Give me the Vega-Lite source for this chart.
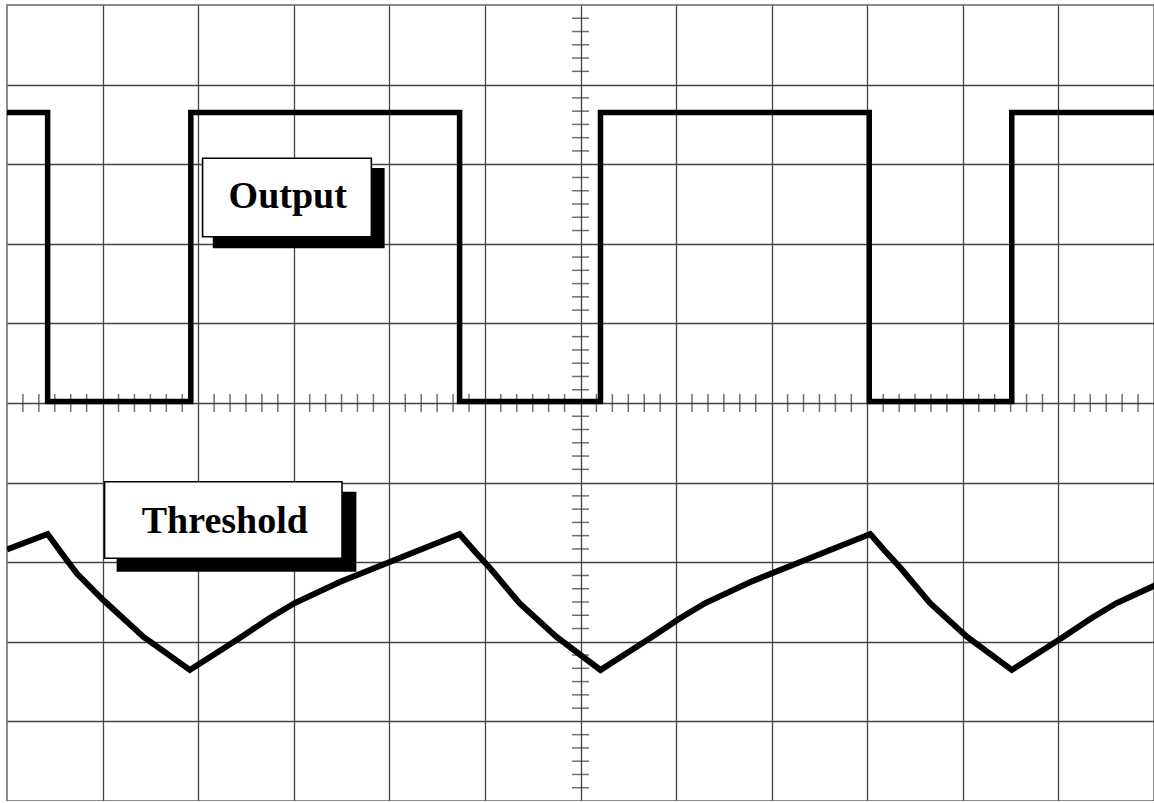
{
  "$schema": "https://vega.github.io/schema/vega-lite/v6.json",
  "width": 1147,
  "height": 796,
  "autosize": {"type": "none"},
  "padding": {"left": 7, "top": 5, "right": 0, "bottom": 0},
  "background": "white",
  "config": {
    "view": {"stroke": "#666", "strokeWidth": 1.5},
    "axis": {"grid": true, "labels": false, "ticks": false, "domain": false, "title": null, "gridColor": "#444", "gridWidth": 1.3, "gridOpacity": 1}
  },
  "datasets": {
    "output": [
      {"i": 0, "t": 0, "v": 3.65},
      {"i": 1, "t": 0.425, "v": 3.65},
      {"i": 2, "t": 0.425, "v": 0.02},
      {"i": 3, "t": 1.923, "v": 0.02},
      {"i": 4, "t": 1.923, "v": 3.65},
      {"i": 5, "t": 4.735, "v": 3.65},
      {"i": 6, "t": 4.735, "v": 0.02},
      {"i": 7, "t": 6.209, "v": 0.02},
      {"i": 8, "t": 6.209, "v": 3.65},
      {"i": 9, "t": 9.021, "v": 3.65},
      {"i": 10, "t": 9.021, "v": 0.02},
      {"i": 11, "t": 10.512, "v": 0.02},
      {"i": 12, "t": 10.512, "v": 3.65},
      {"i": 13, "t": 12.05, "v": 3.65}
    ],
    "threshold": [
      {"i": 0, "t": 0, "v": -1.84},
      {"i": 1, "t": 0.425, "v": -1.646},
      {"i": 2, "t": 0.58, "v": -1.9},
      {"i": 3, "t": 0.729, "v": -2.139},
      {"i": 4, "t": 1.007, "v": -2.475},
      {"i": 5, "t": 1.425, "v": -2.936},
      {"i": 6, "t": 1.913, "v": -3.354},
      {"i": 7, "t": 2.174, "v": -3.153},
      {"i": 8, "t": 2.435, "v": -2.952},
      {"i": 9, "t": 2.749, "v": -2.701},
      {"i": 10, "t": 3.01, "v": -2.513},
      {"i": 11, "t": 3.481, "v": -2.249},
      {"i": 12, "t": 4.003, "v": -1.997},
      {"i": 13, "t": 4.369, "v": -1.822},
      {"i": 14, "t": 4.735, "v": -1.646},
      {"i": 15, "t": 4.89, "v": -1.86},
      {"i": 16, "t": 5.05, "v": -2.07},
      {"i": 17, "t": 5.362, "v": -2.516},
      {"i": 18, "t": 5.746, "v": -2.936},
      {"i": 19, "t": 6.209, "v": -3.354},
      {"i": 20, "t": 6.47, "v": -3.153},
      {"i": 21, "t": 6.731, "v": -2.952},
      {"i": 22, "t": 7.045, "v": -2.701},
      {"i": 23, "t": 7.306, "v": -2.513},
      {"i": 24, "t": 7.777, "v": -2.249},
      {"i": 25, "t": 8.299, "v": -1.997},
      {"i": 26, "t": 8.665, "v": -1.822},
      {"i": 27, "t": 9.031, "v": -1.646},
      {"i": 28, "t": 9.186, "v": -1.86},
      {"i": 29, "t": 9.346, "v": -2.07},
      {"i": 30, "t": 9.658, "v": -2.516},
      {"i": 31, "t": 10.042, "v": -2.936},
      {"i": 32, "t": 10.512, "v": -3.354},
      {"i": 33, "t": 10.773, "v": -3.153},
      {"i": 34, "t": 11.034, "v": -2.952},
      {"i": 35, "t": 11.348, "v": -2.701},
      {"i": 36, "t": 11.609, "v": -2.513},
      {"i": 37, "t": 12.05, "v": -2.27}
    ],
    "hticks": [
      {"p": 0.1667}, {"p": 0.3333}, {"p": 0.5}, {"p": 0.6667}, {"p": 0.8333},
      {"p": 1.1667}, {"p": 1.3333}, {"p": 1.5}, {"p": 1.6667}, {"p": 1.8333},
      {"p": 2.1667}, {"p": 2.3333}, {"p": 2.5}, {"p": 2.6667}, {"p": 2.8333},
      {"p": 3.1667}, {"p": 3.3333}, {"p": 3.5}, {"p": 3.6667}, {"p": 3.8333},
      {"p": 4.1667}, {"p": 4.3333}, {"p": 4.5}, {"p": 4.6667}, {"p": 4.8333},
      {"p": 5.1667}, {"p": 5.3333}, {"p": 5.5}, {"p": 5.6667}, {"p": 5.8333},
      {"p": 6.1667}, {"p": 6.3333}, {"p": 6.5}, {"p": 6.6667}, {"p": 6.8333},
      {"p": 7.1667}, {"p": 7.3333}, {"p": 7.5}, {"p": 7.6667}, {"p": 7.8333},
      {"p": 8.1667}, {"p": 8.3333}, {"p": 8.5}, {"p": 8.6667}, {"p": 8.8333},
      {"p": 9.1667}, {"p": 9.3333}, {"p": 9.5}, {"p": 9.6667}, {"p": 9.8333},
      {"p": 10.1667}, {"p": 10.3333}, {"p": 10.5}, {"p": 10.6667}, {"p": 10.8333},
      {"p": 11.1667}, {"p": 11.3333}, {"p": 11.5}, {"p": 11.6667}, {"p": 11.8333}
    ],
    "vticks": [
      {"p": -4.8333}, {"p": -4.6667}, {"p": -4.5}, {"p": -4.3333}, {"p": -4.1667},
      {"p": -3.8333}, {"p": -3.6667}, {"p": -3.5}, {"p": -3.3333}, {"p": -3.1667},
      {"p": -2.8333}, {"p": -2.6667}, {"p": -2.5}, {"p": -2.3333}, {"p": -2.1667},
      {"p": -1.8333}, {"p": -1.6667}, {"p": -1.5}, {"p": -1.3333}, {"p": -1.1667},
      {"p": -0.8333}, {"p": -0.6667}, {"p": -0.5}, {"p": -0.3333}, {"p": -0.1667},
      {"p": 0.1667}, {"p": 0.3333}, {"p": 0.5}, {"p": 0.6667}, {"p": 0.8333},
      {"p": 1.1667}, {"p": 1.3333}, {"p": 1.5}, {"p": 1.6667}, {"p": 1.8333},
      {"p": 2.1667}, {"p": 2.3333}, {"p": 2.5}, {"p": 2.6667}, {"p": 2.8333},
      {"p": 3.1667}, {"p": 3.3333}, {"p": 3.5}, {"p": 3.6667}, {"p": 3.8333},
      {"p": 4.1667}, {"p": 4.3333}, {"p": 4.5}, {"p": 4.6667}, {"p": 4.8333}
    ],
    "shadows": [
      {"name": "Output", "x1": 2.153, "x2": 3.951, "y1": 2.952, "y2": 1.943},
      {"name": "Threshold", "x1": 1.147, "x2": 3.655, "y1": -1.114, "y2": -2.119}
    ],
    "boxes": [
      {"name": "Output", "x1": 2.046, "x2": 3.812, "y1": 3.074, "y2": 2.089},
      {"name": "Threshold", "x1": 1.021, "x2": 3.505, "y1": -0.989, "y2": -1.951}
    ],
    "labels": [
      {"name": "Output", "x": 2.937, "y": 2.45},
      {"name": "Threshold", "x": 2.279, "y": -1.637}
    ]
  },
  "layer": [
    {
      "data": {"name": "hticks"},
      "mark": {"type": "tick", "orient": "vertical", "size": 18, "thickness": 1.5, "color": "#333"},
      "encoding": {
        "x": {"field": "p", "type": "quantitative", "scale": {"domain": [0, 12], "nice": false, "zero": false}, "axis": {"values": [1, 2, 3, 4, 5, 6, 7, 8, 9, 10, 11]}},
        "y": {"datum": 0, "type": "quantitative", "scale": {"domain": [-5, 5], "nice": false, "zero": false}, "axis": {"values": [-4, -3, -2, -1, 0, 1, 2, 3, 4]}}
      }
    },
    {
      "data": {"name": "vticks"},
      "mark": {"type": "tick", "orient": "horizontal", "size": 17, "thickness": 1.5, "color": "#333"},
      "encoding": {
        "y": {"field": "p", "type": "quantitative"},
        "x": {"datum": 6, "type": "quantitative"}
      }
    },
    {
      "data": {"name": "output"},
      "mark": {"type": "line", "color": "black", "strokeWidth": 5.5, "strokeJoin": "miter", "strokeCap": "butt", "clip": true},
      "encoding": {
        "x": {"field": "t", "type": "quantitative"},
        "y": {"field": "v", "type": "quantitative"},
        "order": {"field": "i", "type": "quantitative"}
      }
    },
    {
      "data": {"name": "threshold"},
      "mark": {"type": "line", "color": "black", "strokeWidth": 6, "strokeJoin": "miter", "strokeCap": "butt", "clip": true},
      "encoding": {
        "x": {"field": "t", "type": "quantitative"},
        "y": {"field": "v", "type": "quantitative"},
        "order": {"field": "i", "type": "quantitative"}
      }
    },
    {
      "data": {"name": "shadows"},
      "mark": {"type": "rect", "color": "black"},
      "encoding": {
        "x": {"field": "x1", "type": "quantitative"},
        "x2": {"field": "x2"},
        "y": {"field": "y1", "type": "quantitative"},
        "y2": {"field": "y2"}
      }
    },
    {
      "data": {"name": "boxes"},
      "mark": {"type": "rect", "fill": "white", "stroke": "black", "strokeWidth": 1.6},
      "encoding": {
        "x": {"field": "x1", "type": "quantitative"},
        "x2": {"field": "x2"},
        "y": {"field": "y1", "type": "quantitative"},
        "y2": {"field": "y2"}
      }
    },
    {
      "data": {"name": "labels"},
      "mark": {"type": "text", "font": "Liberation Serif", "fontWeight": "bold", "fontSize": 38, "align": "center", "baseline": "alphabetic", "color": "black"},
      "encoding": {
        "x": {"field": "x", "type": "quantitative"},
        "y": {"field": "y", "type": "quantitative"},
        "text": {"field": "name", "type": "nominal"}
      }
    }
  ]
}
